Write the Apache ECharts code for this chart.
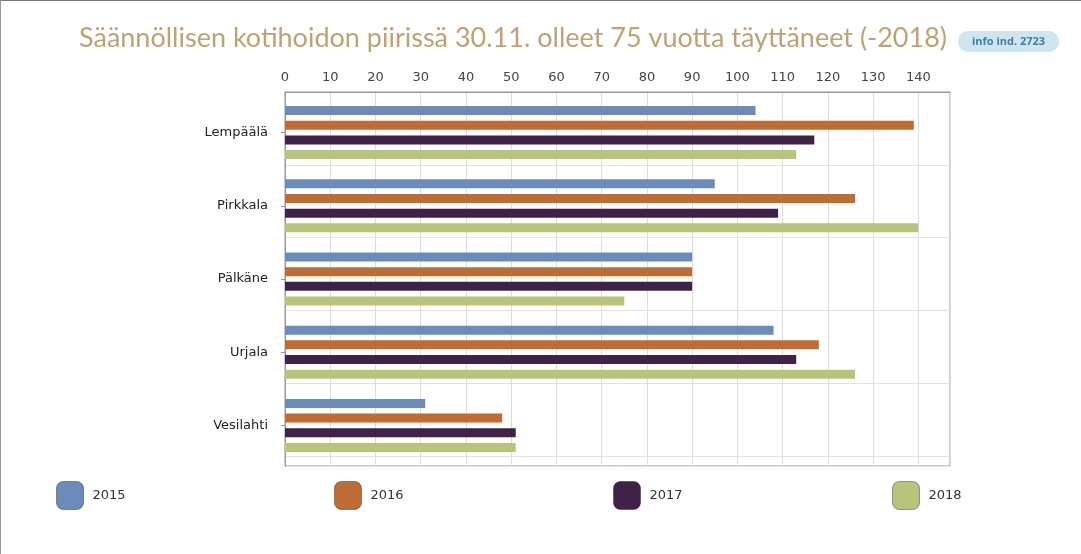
<!DOCTYPE html>
<html><head><meta charset="utf-8">
<script src="https://cdn.jsdelivr.net/npm/echarts@6/dist/echarts.min.js"></script>
<style>
html,body{margin:0;padding:0;background:#fff;}
#c{width:1081px;height:554px;box-sizing:border-box;border-top:1px solid #777;border-left:1px solid #999;}
</style></head>
<body><div id="c"></div>
<script>
const categories = ['Lempäälä','Pirkkala','Pälkäne','Urjala','Vesilahti'];
const years = ['2015','2016','2017','2018'];
const v2015 = [104, 95, 90, 108, 31];
const v2016 = [139, 126, 90, 118, 48];
const v2017 = [117, 109, 90, 113, 51];
const v2018 = [113, 140, 75, 126, 51];
const colors = ['#6b8cba', '#bf6c34', '#3f2149', '#b9c37b'];
const titleText = 'Säännöllisen kotihoidon piirissä 30.11. olleet 75 vuotta täyttäneet (-2018)';
const badgeText = 'info ind. 2723';

const seriesData = [v2015, v2016, v2017, v2018];
const chart = echarts.init(document.getElementById('c'));
const legendLefts = [55, 333, 612, 891];
chart.setOption({
  animation: false,
  title: {
    text: titleText, left: 73, top: 19,
    textStyle: {fontFamily: 'Lato', fontSize: 27, fontWeight: 'normal', color: '#bfa274'}
  },
  graphic: [{
    type: 'group', left: 957, top: 30,
    children: [
      {type: 'rect', shape: {x: 0, y: 0, width: 101, height: 21, r: 10}, style: {fill: '#cfe6f0'}},
      {type: 'text', style: {x: 50.5, y: 10.5, text: badgeText, align: 'center', verticalAlign: 'middle', fill: '#3d7fa6', font: 'bold 11px "Open Sans"'}}
    ]
  }],
  legend: years.map((y, i) => ({
    data: [y], left: legendLefts[i], top: 480, orient: 'horizontal', padding: 0,
    icon: 'roundRect', itemWidth: 27, itemHeight: 28, itemGap: 10,
    itemStyle: {borderColor: 'rgba(0,0,0,0.35)', borderWidth: 1},
    textStyle: {fontFamily: 'DejaVu Sans', fontSize: 13, color: '#333', padding: [0, 0, 0, 4]}
  })),
  grid: [
    {left: 284, right: 131, top: 91, bottom: 88, show: true, borderColor: '#999', borderWidth: 1, backgroundColor: 'transparent'},
    {left: 284, right: 131, top: 95, bottom: 92}
  ],
  xAxis: [{
    gridIndex: 0, type: 'value', position: 'top', min: 0, max: 147, interval: 10,
    axisLine: {show: true, lineStyle: {color: '#999'}},
    axisTick: {show: false},
    axisLabel: {showMaxLabel: false, fontFamily: 'DejaVu Sans', fontSize: 13, color: '#444', margin: 8},
    splitLine: {show: true, lineStyle: {color: '#ddd'}}
  }, {
    gridIndex: 1, type: 'value', min: 0, max: 147, show: false
  }],
  yAxis: [{
    gridIndex: 0, type: 'value', inverse: true, min: 0, max: 375, interval: 73,
    axisLine: {show: true, lineStyle: {color: '#999'}},
    axisTick: {show: false}, axisLabel: {show: false},
    splitLine: {show: true, lineStyle: {color: '#e2e2e2'}}
  }, {
    gridIndex: 1, type: 'category', data: categories, inverse: true,
    axisLine: {show: false},
    axisTick: {show: true, alignWithLabel: true, length: 4, lineStyle: {color: '#999'}},
    axisLabel: {fontFamily: 'DejaVu Sans', fontSize: 13, color: '#222', margin: 17},
    splitLine: {show: false}
  }],
  series: years.map((y, i) => ({
    name: y, type: 'bar', data: seriesData[i], xAxisIndex: 1, yAxisIndex: 1,
    barWidth: 9, barGap: '63%',
    itemStyle: {color: colors[i]}
  }))
});
</script>
</body></html>
